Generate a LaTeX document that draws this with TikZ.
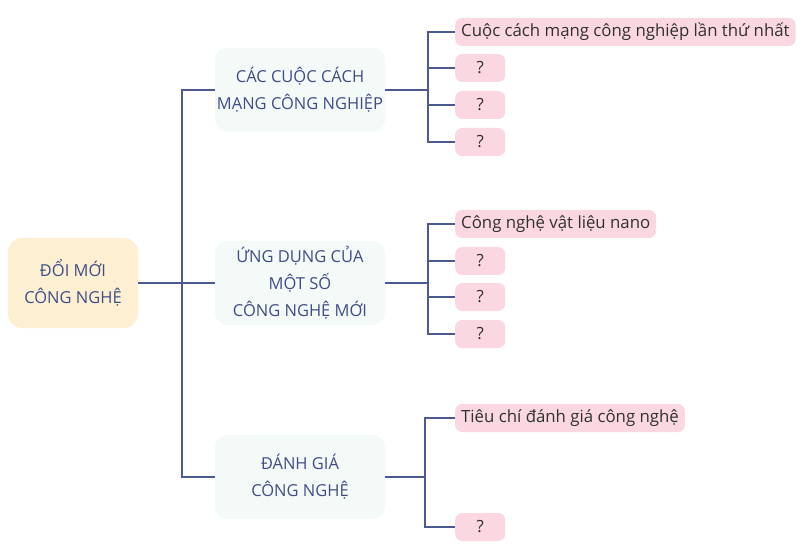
\documentclass[tikz,border=0pt]{standalone}
\usepackage{fontspec}
\setmainfont{Open Sans}
\usetikzlibrary{positioning}
\definecolor{linkblue}{HTML}{4B5A91}
\definecolor{headblue}{HTML}{3F4D88}
\definecolor{rootfill}{HTML}{FDF0D2}
\definecolor{topicfill}{HTML}{F3FAF7}
\definecolor{leafpink}{HTML}{FBD8E1}
\definecolor{leaftext}{HTML}{303030}

\begin{document}
\begin{tikzpicture}[x=1pt,y=-1pt,
  every node/.style={inner sep=0pt},
  rootbox/.style={rounded corners=14pt,fill=rootfill,text=headblue,
    minimum width=130pt,minimum height=90pt,align=center,
    font=\fontsize{16.5}{27}\selectfont},
  topicbox/.style={rounded corners=12pt,fill=topicfill,text=headblue,
    minimum width=170pt,minimum height=84pt,align=center,
    font=\fontsize{16.5}{27}\selectfont},
  leafbox/.style={rounded corners=7pt,fill=leafpink,text=leaftext,
    minimum width=50pt,minimum height=28pt,inner xsep=6pt,anchor=west,
    font=\fontsize{16.8}{18}\selectfont},
  link/.style={draw=linkblue,line width=1.6pt}]

  \useasboundingbox (0,0) rectangle (808,553);

  % root
  \node[rootbox] (root) at (73,283) {ĐỔI MỚI\\CÔNG NGHỆ};
  \coordinate (j0) at (182,283);

  % topics
  \node[topicbox] (t1) at (300,90) {CÁC CUỘC CÁCH\\MẠNG CÔNG NGHIỆP};
  \node[topicbox] (t2) at (300,283) {ỨNG DỤNG CỦA\\MỘT SỐ\\CÔNG NGHỆ MỚI};
  \node[topicbox] (t3) at (300,477) {ĐÁNH GIÁ\\CÔNG NGHỆ};

  \draw[link] (root) -- (j0);
  \foreach \m in {1,2,3} {
    \draw[link] (j0) |- (t\m);
  }

  % leaves of the first topic
  \coordinate (j1) at (428,90);
  \node[leafbox] (l11) at (455,32) {Cuộc cách mạng công nghiệp lần thứ nhất};
  \foreach \k/\y in {2/68,3/105,4/142} {
    \node[leafbox] (l1\k) at (455,\y) {?};
  }

  % leaves of the second topic
  \coordinate (j2) at (428,283);
  \node[leafbox] (l21) at (455,224) {Công nghệ vật liệu nano};
  \foreach \k/\y in {2/261,3/297,4/334} {
    \node[leafbox] (l2\k) at (455,\y) {?};
  }

  % leaves of the third topic
  \coordinate (j3) at (425,477);
  \node[leafbox] (l31) at (455,418) {Tiêu chí đánh giá công nghệ};
  \node[leafbox] (l32) at (455,527) {?};

  \foreach \m in {1,2} {
    \draw[link] (t\m) -- (j\m);
    \foreach \k in {1,2,3,4} {
      \draw[link] (j\m) |- (l\m\k);
    }
  }
  \draw[link] (t3) -- (j3);
  \draw[link] (j3) |- (l31);
  \draw[link] (j3) |- (l32);
\end{tikzpicture}
\end{document}
